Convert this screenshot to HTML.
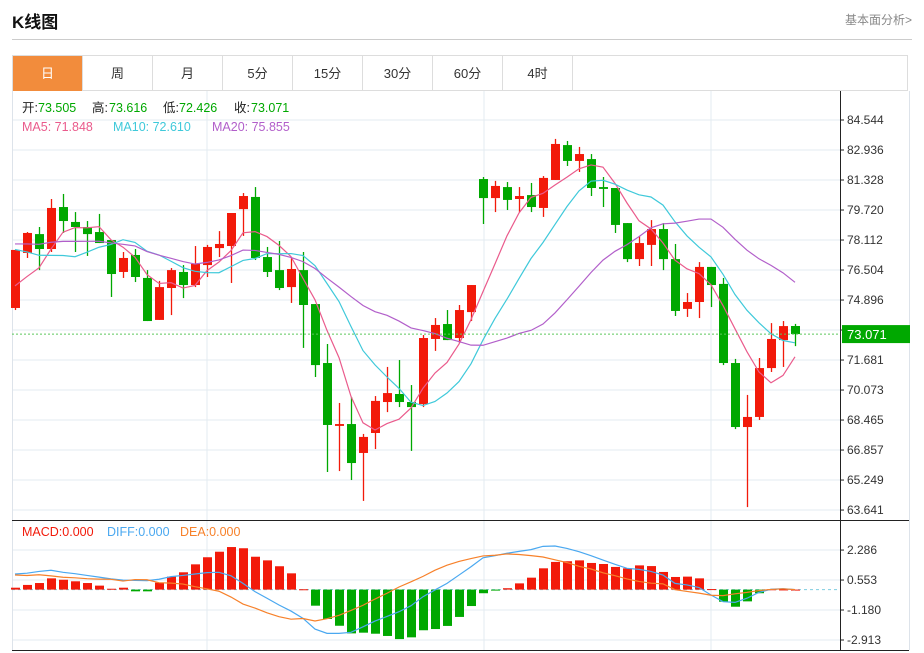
<!DOCTYPE html>
<html><head><meta charset="utf-8">
<style>
html,body{margin:0;padding:0;background:#fff;width:924px;height:653px;overflow:hidden;font-family:"Liberation Sans","Noto Sans CJK SC",sans-serif;}
#title{position:absolute;left:12px;top:8px;font-size:17px;font-weight:bold;color:#111;}
#more{position:absolute;right:12px;top:11px;font-size:12px;color:#888;}
#hr{position:absolute;left:12px;top:39px;width:900px;height:1px;background:#ccc;}
#tabs{position:absolute;left:12px;top:55px;width:896px;height:36px;border:1px solid #ddd;box-sizing:border-box;display:flex;}
.tab{width:70px;height:35px;line-height:35px;text-align:center;font-size:13px;color:#333;border-right:1px solid #ddd;box-sizing:border-box;}
.tab.on{background:#f28c3c;color:#fff;}
svg{position:absolute;left:0;top:0;}
</style></head><body>
<div id="title">K线图</div>
<div id="more">基本面分析&gt;</div>
<div id="hr"></div>
<div id="tabs">
<div class="tab on">日</div>
<div class="tab">周</div>
<div class="tab">月</div>
<div class="tab">5分</div>
<div class="tab">15分</div>
<div class="tab">30分</div>
<div class="tab">60分</div>
<div class="tab">4时</div>
</div>
<svg id="chart" width="924" height="653"></svg>
<script>
const opens=[74.47,77.42,78.43,77.63,79.88,79.08,78.81,78.54,78.11,76.40,77.31,76.08,73.83,75.54,76.40,75.70,76.77,77.68,77.79,79.77,80.42,77.20,76.50,75.59,76.50,74.68,71.52,68.15,68.25,66.70,67.77,69.43,69.86,69.43,69.32,72.81,73.61,72.86,74.25,81.38,80.36,80.95,80.31,80.52,79.83,81.33,83.20,82.35,82.45,80.95,80.90,79.02,77.09,77.85,78.70,77.09,74.42,74.79,76.67,75.76,71.52,68.09,68.63,71.25,72.75,73.505];
const highs=[77.58,78.54,78.81,80.31,80.58,79.61,79.13,79.51,78.11,77.47,77.63,76.50,75.92,76.61,76.77,77.79,77.85,78.59,79.56,80.63,80.95,77.74,78.06,77.15,77.47,74.68,72.54,69.38,69.70,67.72,69.75,71.31,71.68,70.34,73.02,73.93,74.36,74.63,75.70,81.49,81.28,81.22,80.95,81.17,81.54,83.53,83.42,83.10,82.72,81.49,80.90,79.02,78.33,79.18,79.02,77.90,75.27,76.93,76.67,76.08,71.74,69.81,71.79,73.66,73.77,73.616];
const lows=[74.36,77.15,76.50,77.47,78.49,77.47,77.26,77.95,75.06,76.08,75.86,73.77,73.83,74.09,75.00,75.59,76.13,77.20,75.81,78.33,77.04,76.13,75.43,74.74,72.33,70.77,65.68,65.73,65.25,64.13,66.91,68.89,69.16,66.81,69.16,72.17,72.75,72.59,73.77,78.97,79.61,79.72,79.61,79.61,79.35,81.33,82.08,81.76,80.47,79.88,78.49,76.93,76.72,76.72,76.50,74.04,73.99,73.93,74.52,71.41,67.98,63.80,68.47,71.04,71.31,72.426];
const closes=[77.58,78.49,77.63,79.83,79.13,78.81,78.43,77.95,76.29,77.15,76.13,73.77,75.59,76.50,75.70,76.83,77.74,77.90,79.56,80.47,77.15,76.40,75.54,76.56,74.63,71.41,68.20,68.25,66.16,67.56,69.49,69.91,69.43,69.16,72.86,73.56,72.75,74.36,75.70,80.36,81.01,80.26,80.47,79.88,81.44,83.26,82.35,82.72,80.90,80.85,78.92,77.09,77.95,78.70,77.09,74.31,74.79,76.67,75.70,71.52,68.09,68.63,71.25,72.81,73.50,73.071];
const priorCloses=[78.5,78.0,77.6,78.2,78.8,78.4,77.9,78.1,78.6,77.9,79.8,79.4,79.9,79.2,79.45,76.0,75.3,74.8,74.6];
const macdHist=[0.11,0.27,0.38,0.65,0.57,0.48,0.38,0.23,0.05,0.11,-0.1,-0.1,0.40,0.75,1.0,1.46,1.87,2.19,2.46,2.39,1.90,1.69,1.35,0.94,0.02,-0.93,-1.70,-2.09,-2.53,-2.49,-2.55,-2.68,-2.86,-2.76,-2.35,-2.28,-2.10,-1.58,-0.95,-0.21,-0.05,0.08,0.36,0.69,1.23,1.60,1.64,1.69,1.54,1.48,1.31,1.23,1.40,1.36,1.02,0.73,0.75,0.65,0.03,-0.70,-0.99,-0.68,-0.21,0.02,0.01,0];
const difValues=[0.90,0.95,1.05,1.12,1.0,0.92,0.82,0.72,0.62,0.55,0.53,0.52,0.60,0.75,0.82,0.90,0.98,1.0,0.80,0.36,-0.12,-0.5,-0.89,-1.24,-1.66,-2.28,-2.53,-2.53,-2.47,-2.15,-1.82,-1.55,-1.28,-0.93,-0.41,-0.02,0.36,0.84,1.32,1.84,1.96,2.10,2.21,2.31,2.50,2.52,2.38,2.19,1.96,1.71,1.46,1.23,1.17,1.05,0.84,0.36,0.27,0.12,-0.31,-0.70,-0.74,-0.50,-0.16,0.02,0.05,0];
const priceTicks=[84.544,82.936,81.328,79.720,78.112,76.504,74.896,73.288,71.681,70.073,68.465,66.857,65.249,63.641];
const macdTicks=[2.286,0.553,-1.180,-2.913];

const NS='http://www.w3.org/2000/svg';
const svg=document.getElementById('chart');
function mk(tag,attrs,parent){const e=document.createElementNS(NS,tag);for(const k in attrs)e.setAttribute(k,attrs[k]);(parent||svg).appendChild(e);return e;}
const L=12,R=840,TOP=91,MID=520,BOT=650;
const px=i=>15+12*i;
const py=p=>120+(84.544-p)*18.66;
const my=v=>589.6-v*17.3;
const RED='#f21a0a',GRN='#00a800';

// frame & grid
let g=mk('g',{});


priceTicks.forEach(t=>{mk('line',{x1:L,x2:R,y1:py(t),y2:py(t),stroke:'#e3ebf1','stroke-width':1},g);});
macdTicks.forEach(t=>{mk('line',{x1:L,x2:R,y1:my(t),y2:my(t),stroke:'#e3ebf1','stroke-width':1},g);});
[207,484,711].forEach(x=>{mk('line',{x1:x,x2:x,y1:TOP,y2:BOT,stroke:'#e3ebf1','stroke-width':1},g);});
mk('line',{x1:L+0.5,x2:L+0.5,y1:TOP,y2:BOT,stroke:'#dde3ea'});
mk('line',{x1:909.5,x2:909.5,y1:TOP,y2:BOT,stroke:'#dde3ea'});
mk('line',{x1:R+0.5,x2:R+0.5,y1:TOP,y2:BOT,stroke:'#222'});
mk('line',{x1:L,x2:909,y1:MID+0.5,y2:MID+0.5,stroke:'#222'});
mk('line',{x1:L,x2:909,y1:BOT+0.5,y2:BOT+0.5,stroke:'#222'});

// price axis
priceTicks.forEach(t=>{
 mk('line',{x1:R,x2:R+4,y1:py(t),y2:py(t),stroke:'#222'});
 const tx=mk('text',{x:R+7,y:py(t)+4,'font-size':12,fill:'#333'});
 tx.textContent=t.toFixed(3);
 
 
});
macdTicks.forEach(t=>{
 mk('line',{x1:R,x2:R+4,y1:my(t),y2:my(t),stroke:'#222'});
 const tx=mk('text',{x:R+7,y:my(t)+4,'font-size':12,fill:'#333'});
 tx.textContent=t.toFixed(3);
 
 
});

// candles
closes.forEach((c,i)=>{
 const o=opens[i],up=c>=o,col=up?RED:GRN,x=px(i);
 const cg=mk('g',{});
 
 
 mk('line',{x1:x+0.5,x2:x+0.5,y1:py(highs[i]),y2:py(lows[i]),stroke:col,'stroke-width':1.3},cg);
 const t=py(Math.max(o,c)),b=py(Math.min(o,c));
 mk('rect',{x:x-4,y:t,width:9,height:Math.max(1.5,b-t),fill:col},cg);
});

// moving averages
const all=priorCloses.concat(closes);
function ma(n){return closes.map((_,i)=>{const k=i+priorCloses.length;let s=0;for(let j=k-n+1;j<=k;j++)s+=all[j];return s/n;});}
[[5,'#ea5b8c','ma5-line'],[10,'#3fc9da','ma10-line'],[20,'#b25fca','ma20-line']].forEach(([n,col,name])=>{
 const v=ma(n);
 const pl=mk('polyline',{points:v.map((p,i)=>px(i)+','+py(p)).join(' '),fill:'none',stroke:col,'stroke-width':1.2});
 
 
});

// last price line & label
const last=closes[closes.length-1];
mk('line',{x1:L,x2:R,y1:py(last),y2:py(last),stroke:'#5cc85c','stroke-width':1,'stroke-dasharray':'2,2'});
const lb=mk('rect',{x:R+2,y:py(last)-9,width:68,height:18,fill:'#00a800'});


const lt=mk('text',{x:R+7,y:py(last)+5,'font-size':13,fill:'#fff'});
lt.textContent=last.toFixed(3);

// MACD
mk('line',{x1:L,x2:R,y1:my(0),y2:my(0),stroke:'#7fcde0','stroke-dasharray':'3,3'});
macdHist.forEach((v,i)=>{
 const y0=my(0),y1=my(v);
 const r=mk('rect',{x:px(i)-4,y:Math.min(y0,y1),width:9,height:Math.max(1,Math.abs(y1-y0)),fill:v>=0?RED:GRN});
 
 
});
const deaValues=difValues.map((d,i)=>d-macdHist[i]/2);
[[difValues,'#4aa8f0','diff-line'],[deaValues,'#f7812a','dea-line']].forEach(([arr,col,name])=>{
 const pl=mk('polyline',{points:arr.map((v,i)=>px(i)+','+my(v)).join(' '),fill:'none',stroke:col,'stroke-width':1.2});
 
 
});

// legends
function txt(x,y,s,col,name){const t=mk('text',{x:x,y:y,'font-size':12.5,fill:col});t.textContent=s;return t;}
const info=[['开:','#222',22],['73.505',GRN,38],['高:','#222',92],['73.616',GRN,109],['低:','#222',163],['72.426',GRN,179],['收:','#222',234],['73.071',GRN,251]];
info.forEach(([s,c,x])=>txt(x,112,s,c,'ohlc-info'));
txt(22,131,'MA5: 71.848','#ea5b8c','ma5-legend');
txt(113,131,'MA10: 72.610','#3fc9da','ma10-legend');
txt(212,131,'MA20: 75.855','#b25fca','ma20-legend');
txt(22,536,'MACD:0.000',RED,'macd-legend');
txt(107,536,'DIFF:0.000','#4aa8f0','diff-legend');
txt(180,536,'DEA:0.000','#f7812a','dea-legend');
</script>
</body></html>
